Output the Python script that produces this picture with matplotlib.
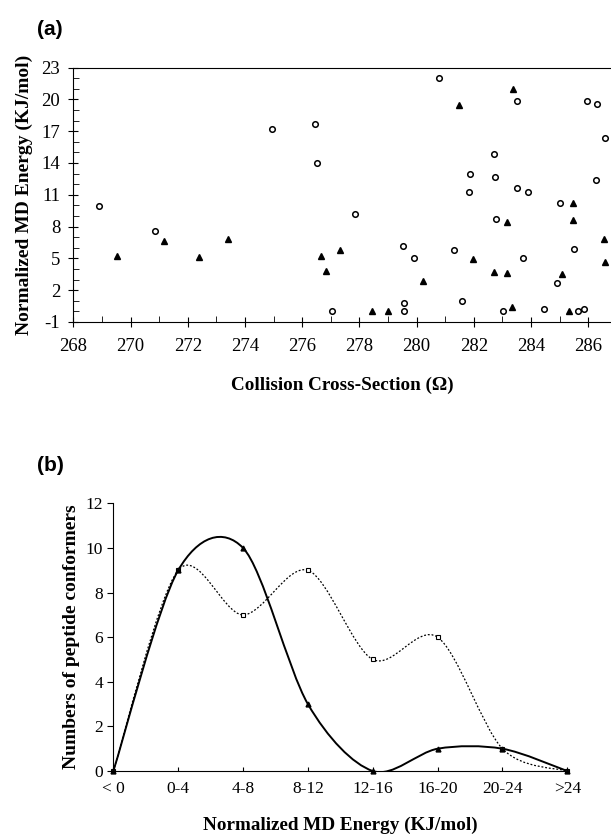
import numpy as np
import matplotlib
matplotlib.use("Agg")
import matplotlib.pyplot as plt
from matplotlib.path import Path
from matplotlib.patches import PathPatch

plt.rcParams['font.family'] = ['Liberation Serif', 'DejaVu Serif']
plt.rcParams['axes.unicode_minus'] = False

# (a) colision cross-section vs normalized MD energy
circ_x = [268.91, 270.85, 274.94, 276.44, 276.51, 277.03, 277.85, 279.52, 279.90, 279.56,
          279.56, 280.78, 281.32, 281.58, 281.84, 281.86, 282.71, 282.74, 282.77, 283.03,
          283.52, 283.52, 283.74, 283.91, 284.45, 284.92, 285.01, 285.49, 285.65, 285.84,
          285.97, 286.27, 286.31, 286.59]
circ_y = [9.9, 7.55, 17.2, 17.7, 14.0, 0.0, 9.2, 6.15, 5.0, 0.8,
          0.05, 22.0, 5.75, 1.0, 11.25, 13.0, 14.8, 12.7, 8.7, 0.05,
          19.8, 11.6, 5.0, 11.3, 0.2, 2.7, 10.25, 5.9, 0.05, 0.25,
          19.8, 12.4, 19.55, 16.4]
tri_x = [269.51, 271.18, 272.40, 273.42, 276.66, 276.83, 277.32, 278.45, 279.01, 280.22,
         281.47, 281.96, 282.70, 283.15, 283.17, 283.33, 283.38, 285.07, 285.33, 285.46,
         285.46, 286.54, 286.59]
tri_y = [5.2, 6.6, 5.1, 6.8, 5.2, 3.8, 5.75, 0.05, 0.05, 2.9,
         19.5, 4.9, 3.7, 8.4, 3.6, 0.45, 21.0, 3.5, 0.0, 10.2,
         8.6, 6.8, 4.7]

# (b) distribucion de conformeros
categorias = ["< 0", "0-4", "4-8", "8-12", "12-16", "16-20", "20-24", ">24"]
serie_tri = [0, 9, 10, 3, 0, 1, 1, 0]
serie_circ = [0, 9, 7, 9, 5, 6, 1, 0]


def curva_suave(xs, ys, k=6.5):
    # Bezier tipo Catmull-Rom (como la linea suavizada de Excel)
    pts = np.column_stack([xs, ys]).astype(float)
    n = len(pts)
    verts = [pts[0]]
    codes = [Path.MOVETO]
    for i in range(n - 1):
        p0 = pts[i - 1] if i > 0 else pts[i]
        p1 = pts[i]
        p2 = pts[i + 1]
        p3 = pts[i + 2] if i + 2 < n else pts[i + 1]
        c1 = p1 + (p2 - p0) / k
        c2 = p2 - (p3 - p1) / k
        verts += [c1, c2, p2]
        codes += [Path.CURVE4] * 3
    return Path(verts, codes)


fig = plt.figure(figsize=(6.11, 8.34), dpi=100)

# ---- panel (a)
ax1 = fig.add_axes([0.120, 0.614, 0.880, 0.305])
ax1.plot(circ_x, circ_y, 'o', ms=4, mfc='white', mec='black', mew=1.1, linestyle='none')
ax1.plot(tri_x, tri_y, '^', ms=5, color='black', linestyle='none')
ax1.set_xlim(268, 286.8)
ax1.set_ylim(-1, 23)
ax1.set_xticks(np.arange(268, 287, 2))
ax1.set_xticks(np.arange(269, 287, 2), minor=True)
ax1.set_yticks(np.arange(-1, 24, 3))
ax1.set_yticks(np.arange(-1, 24, 1), minor=True)
ax1.tick_params(which='major', direction='inout', length=7, width=0.8, labelsize=13.5)
ax1.tick_params(axis='y', which='major', pad=6)
ax1.tick_params(axis='x', which='major', pad=8)
ax1.tick_params(which='minor', direction='in', length=4, width=0.6)
ax1.spines['right'].set_visible(False)
ax1.set_xlabel("Collision Cross-Section (\u03a9)", fontsize=13.8, fontweight='bold', labelpad=16)
ax1.set_ylabel("Normalized MD Energy (KJ/mol)", fontsize=14, fontweight='bold', labelpad=6)
fig.text(0.06, 0.958, "(a)", fontsize=15, fontweight='bold', family=['Liberation Sans'])

# ---- panel (b)
ax2 = fig.add_axes([0.1855, 0.0755, 0.743, 0.321])
xs = np.arange(len(categorias))
ax2.add_patch(PathPatch(curva_suave(xs, serie_circ), fill=False, ec='black', lw=0.9, ls=(0, (1.5, 1.5))))
ax2.add_patch(PathPatch(curva_suave(xs, serie_tri), fill=False, ec='black', lw=1.4))
ax2.plot(xs, serie_circ, 's', ms=3, mfc='white', mec='black', mew=0.8, linestyle='none', clip_on=False)
ax2.plot(xs, serie_tri, '^', ms=3.5, color='black', linestyle='none', clip_on=False)
ax2.set_xlim(0, 7)
ax2.set_ylim(0, 12)
ax2.set_xticks(xs)
ax2.set_xticklabels(categorias)
ax2.set_yticks(np.arange(0, 13, 2))
ax2.tick_params(axis='x', direction='in', length=3, width=0.8, labelsize=12.5, pad=7)
ax2.tick_params(axis='y', direction='out', length=4, width=0.8, labelsize=12.5)
ax2.spines['right'].set_visible(False)
ax2.spines['top'].set_visible(False)
ax2.set_xlabel("Normalized MD Energy (KJ/mol)", fontsize=13.8, fontweight='bold', labelpad=14)
ax2.set_ylabel("Numbers of peptide conformers", fontsize=14, fontweight='bold', labelpad=4)
fig.text(0.06, 0.435, "(b)", fontsize=15, fontweight='bold', family=['Liberation Sans'])

fig.savefig("out.png", dpi=100)
